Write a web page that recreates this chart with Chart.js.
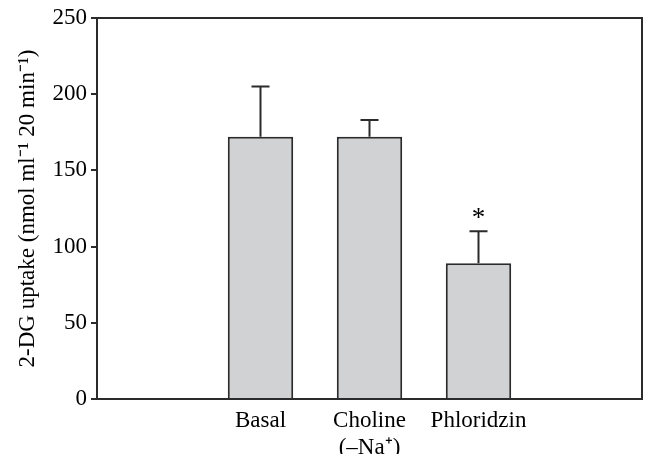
<!DOCTYPE html>
<html><head><meta charset="utf-8">
<script src="https://cdn.jsdelivr.net/npm/chart.js@4/dist/chart.umd.min.js"></script>
<style>html,body{margin:0;padding:0;background:#fff;}canvas{display:block;}</style>
</head><body>
<canvas id="c" width="646" height="454"></canvas>
<script>
const categories = ['', 'Basal', ['Choline', '(–Na⁺)'], 'Phloridzin', ''];
const means = [null, 172, 172, 89, null];
const errors = [null, 33, 11, 21, null];
const significance = ['', '', '', '*', ''];
const yTicks = [0, 50, 100, 150, 200, 250];

const AXIS = '#2b2b2b';
const FONT = 'Liberation Serif';

const extras = {
  id: 'extras',
  afterDatasetsDraw(chart) {
    const ctx = chart.ctx, x = chart.scales.x, y = chart.scales.y;
    ctx.save();
    ctx.strokeStyle = AXIS; ctx.lineWidth = 2;
    means.forEach((m, i) => {
      if (m == null) return;
      const cx = x.getPixelForValue(i);
      const y0 = y.getPixelForValue(m), y1 = y.getPixelForValue(m + errors[i]);
      ctx.beginPath();
      ctx.moveTo(cx, y0); ctx.lineTo(cx, y1);
      ctx.moveTo(cx - 9, y1); ctx.lineTo(cx + 9, y1);
      ctx.stroke();
      if (significance[i]) {
        ctx.fillStyle = '#000';
        ctx.font = '27px "' + FONT + '"';
        ctx.textAlign = 'center'; ctx.textBaseline = 'alphabetic';
        ctx.fillText(significance[i], cx, y1 - 5);
      }
    });
    const a = chart.chartArea;
    ctx.beginPath();
    ctx.moveTo(a.left, a.top); ctx.lineTo(a.right, a.top); ctx.lineTo(a.right, a.bottom);
    ctx.stroke();
    ctx.restore();
  }
};

new Chart(document.getElementById('c'), {
  type: 'bar',
  data: {
    labels: categories,
    datasets: [{
      data: means,
      backgroundColor: '#d1d2d4',
      borderColor: AXIS,
      borderWidth: 2,
      barPercentage: 0.6,
      categoryPercentage: 1.0
    }]
  },
  options: {
    responsive: false,
    animation: false,
    devicePixelRatio: 1,
    layout: { padding: { left: 0, top: 18, right: 4, bottom: 0 } },
    plugins: { legend: { display: false }, tooltip: { enabled: false } },
    scales: {
      x: {
        grid: { display: false },
        border: { display: true, color: AXIS, width: 2 },
        ticks: { color: '#000', font: { family: FONT, size: 23, lineHeight: 1.2 }, padding: 0, maxRotation: 0, autoSkip: false },
        afterFit(s) { s.height = 55; }
      },
      y: {
        min: 0, max: 250,
        afterBuildTicks(s) { s.ticks = yTicks.map(v => ({ value: v })); },
        grid: { display: true, drawOnChartArea: false, drawTicks: true, tickLength: 6, color: AXIS, lineWidth: 2 },
        border: { display: true, color: AXIS, width: 2 },
        ticks: { color: '#000', font: { family: FONT, size: 23 }, padding: 4 },
        title: { display: true, text: '2-DG uptake (nmol ml⁻¹ 20 min⁻¹)', color: '#000', font: { family: FONT, size: 23 }, padding: { top: 14, bottom: 0 } },
        afterFit(s) { s.width = 97; }
      }
    }
  },
  plugins: [extras]
});
</script>
</body></html>
